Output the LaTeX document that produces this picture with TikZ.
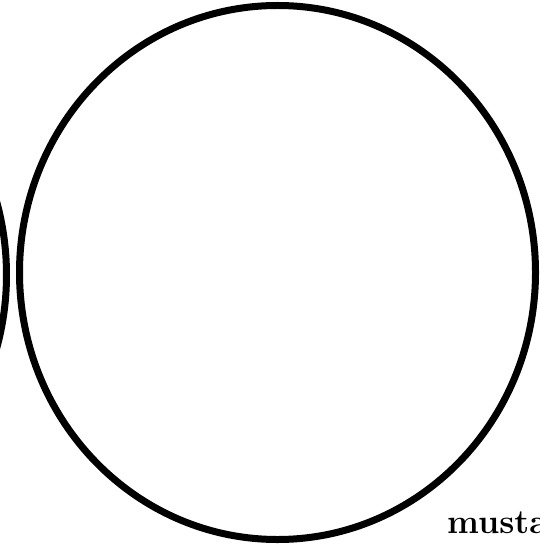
\documentclass[tikz,border=0pt]{standalone}
\usepackage{tikz}
\usetikzlibrary{calc, positioning}

\begin{document}
\begin{tikzpicture}[x=1pt, y=-1pt]
          \useasboundingbox (0, 0) rectangle (539, 545);
          \clip (0, 0) rectangle (539, 545);
          % main circle and the one cut off on the left
          \draw[line width=7pt] (277.5, 272.5) ellipse [x radius=258, y radius=267];
          \draw[line width=7pt] (-251.5, 275) ellipse [x radius=258, y radius=267];
          
          \node[anchor=base west, inner sep=0pt, font=\fontsize{34}{36}\selectfont\bfseries] (word) at (447, 533) {musta};
          
      \end{tikzpicture}
\end{document}
